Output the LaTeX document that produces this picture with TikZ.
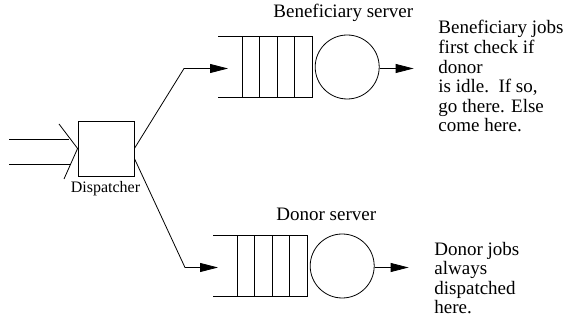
\documentclass[tikz,border=0pt]{standalone}
\usepackage{fontspec}
\setmainfont{Liberation Serif}
\usetikzlibrary{arrows.meta}

\begin{document}
\begin{tikzpicture}[x=1pt,y=-1pt,line width=.8pt]
\tikzset{jobflow/.style={-{Triangle[length=18pt,width=9pt]}},
bigtext/.style={font=\fontsize{19}{19.6}\selectfont,inner sep=0pt,align=left,anchor=base west}}
\useasboundingbox (0,0) rectangle (566,320);
\begin{scope}
\node[draw,minimum width=56pt,minimum height=55pt,inner sep=0pt] (disp) at (106,148.5) {};
\node[font=\fontsize{16}{16}\selectfont,inner sep=0pt,anchor=base] (displabel) at (105.5,193) {Dispatcher};

\coordinate (in1) at (9,139);
\coordinate (in2) at (9,164);
\coordinate (join1) at (69,139);
\coordinate (join2) at (70,164);
\coordinate (fan1) at (59,124);
\coordinate (fan2) at (64,179);
\draw (in1) -- (join1);
\draw (in2) -- (join2);
\draw (fan1) -- (disp.west) -- (fan2);

\foreach \n/\x/\y/\t in {ben/218/67/10,don/213/266/5}{%
	\node[minimum width=94pt,minimum height=60pt,inner sep=0pt,anchor=west] (\n q) at (\x,\y) {};
	\draw (\n q.north west) -- (\n q.north east) -- (\n q.south east) -- (\n q.south west);
	\foreach \k in {24,41,59,76}{%
		\draw ([xshift=\k pt]\n q.north west) -- ([xshift=\k pt]\n q.south west);
	}
	\node[draw,circle,minimum size=64pt,inner sep=0pt,anchor=west] (\n s) at ([xshift=2pt]\n q.east) {};
	\coordinate (\n out) at ([shift={(34pt,-1.5pt)}]\n s.east);
	\coordinate (\n in) at ([shift={(\t pt,-1.5pt)}]\n q.west);
	\draw[jobflow] ([yshift=-1.5pt]\n s.east) -- (\n out);
}%
\coordinate (benbend) at (184,68.5);
\coordinate (donbend) at (185,267.5);
\draw[jobflow] (disp.east) -- (benbend) -- (benin);
\draw[jobflow] ([yshift=-10pt]disp.east) -- (donbend) -- (donin);

\node[font=\fontsize{19}{19}\selectfont,inner sep=0pt,anchor=base west] (benlabel) at (273,18) {Beneficiary server};
\node[font=\fontsize{19}{19}\selectfont,inner sep=0pt,anchor=base west] (donlabel) at (276,221) {Donor server};
\node[bigtext] (bennote) at (438,132) {Beneficiary jobs\\first check if\\donor\\is idle.\ \ If so,\\go there. Else\\come here.};
\node[bigtext] (donnote) at (434,314) {Donor jobs\\always\\dispatched\\here.};
\end{scope}
\end{tikzpicture}
\end{document}
